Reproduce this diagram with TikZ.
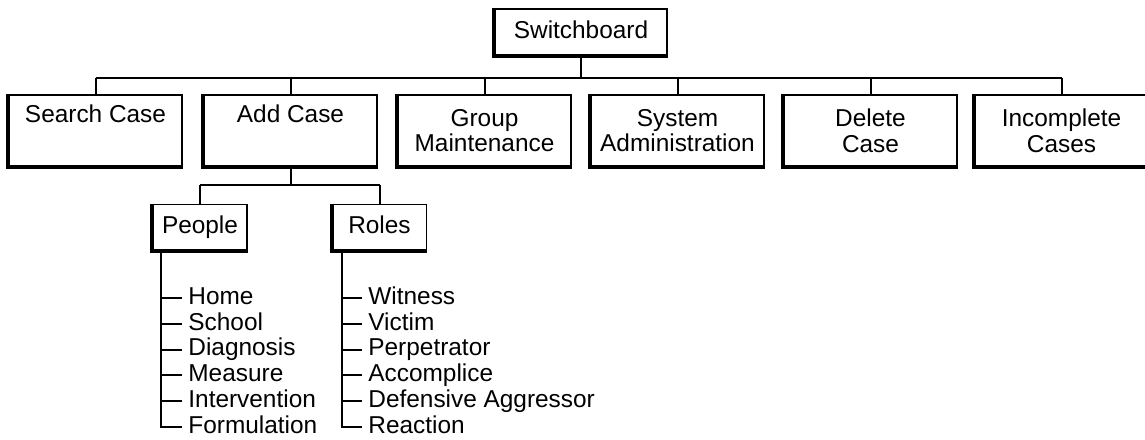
\documentclass[tikz,border=0pt]{standalone}
\usepackage{fontspec}
\setmainfont{Liberation Sans}
\tikzset{
  menubox/.style={rectangle, draw, line width=0.9pt, align=center,
                  minimum width=86.5pt, minimum height=35.5pt, inner sep=0pt},
  smallbox/.style={rectangle, draw, line width=0.9pt, minimum height=23pt,
                   inner sep=0pt, text height=8.8pt, text depth=2.6pt},
  item/.style={anchor=west, inner sep=1.5pt, text height=8.8pt, text depth=2.6pt},
  link/.style={line width=1pt},
  tick/.style={line width=1pt, shorten >=1.5pt},
  shadowedge/.style={line width=2pt},
}

\begin{document}
\begin{tikzpicture}[x=0.5pt, y=-0.5pt, font=\fontsize{12.2}{12.8}\selectfont]
  \useasboundingbox (0,0) rectangle (1145,439);

  % top level
  \node[smallbox, minimum width=86pt] (switch) at (581,32) {Switchboard};

  \node[menubox] (search)     at (95.5,130.5)   {Search Case\\\strut};
  \node[menubox] (add)        at (290.5,130.5)  {Add Case\\\strut};
  \node[menubox] (group)      at (484.5,130.5)  {Group\\Maintenance};
  \node[menubox] (system)     at (677.5,130.5)  {System\\Administration};
  \node[menubox] (delete)     at (870.5,130.5)  {Delete\\Case};
  \node[menubox] (incomplete) at (1061.5,130.5) {Incomplete\\Cases};

  % second level
  \node[smallbox, minimum width=47pt] (people) at (200,227.5)   {People};
  \node[smallbox, minimum width=47pt] (roles)  at (379.5,227.5) {Roles};

  % shadow edges
  \foreach \n in {switch,search,add,group,system,delete,incomplete,people,roles}
    \draw[shadowedge] (\n.north west) -- (\n.south west) -- (\n.south east);

  % connectors
  \coordinate (bar) at (0,78);
  \draw[link] (switch.south) -- (switch.south |- bar);
  \draw[link] (search.north |- bar) -- (incomplete.north |- bar);
  \foreach \n in {search,add,group,system,delete,incomplete}
    \draw[link] (\n.north) -- (\n.north |- bar);

  \coordinate (subbar) at (0,185);
  \draw[link] (add.south) -- (add.south |- subbar);
  \draw[link] (people.north |- subbar) -- (roles.north |- subbar);
  \draw[link] (people.north) -- (people.north |- subbar);
  \draw[link] (roles.north) -- (roles.north |- subbar);

  % lists
  \coordinate (pv) at ([xshift=4.5pt]people.south west);
  \coordinate (rv) at ([xshift=5pt]roles.south west);
  \foreach \t [count=\i] in {Home,School,Diagnosis,Measure,Intervention,Formulation}
    \node[item] (p\i) at (185,272.2+25.8*\i) {\t};
  \foreach \t [count=\i] in {Witness,Victim,Perpetrator,Accomplice,Defensive Aggressor,Reaction}
    \node[item] (r\i) at (365,272.2+25.8*\i) {\t};

  \draw[link] (pv) |- ([xshift=-1.5pt]p6.west);
  \draw[link] (rv) |- ([xshift=-1.5pt]r6.west);
  \foreach \i in {1,...,5} {
    \draw[tick] (pv |- p\i.west) -- (p\i.west);
    \draw[tick] (rv |- r\i.west) -- (r\i.west);
  }
\end{tikzpicture}
\end{document}
